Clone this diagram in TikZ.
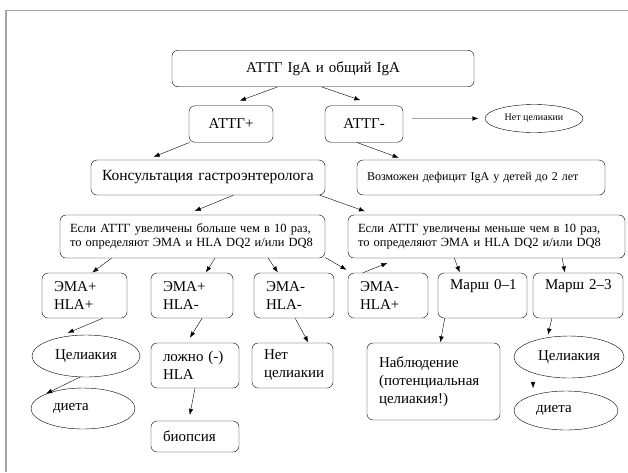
\documentclass[tikz,border=0pt]{standalone}
\usepackage{fontspec}
\setmainfont{Liberation Serif}
\usetikzlibrary{arrows.meta,shapes}
\tikzstyle{block}=[draw,rounded corners=6pt,inner xsep=12pt,inner ysep=0pt,align=left,font=\fontsize{15}{18}\selectfont]
\tikzstyle{centerblock}=[block,align=center]
\tikzstyle{smallblock}=[block,inner xsep=10pt,font=\fontsize{12.5}{14}\selectfont]
\tikzstyle{oval}=[draw,ellipse,inner sep=0pt,font=\fontsize{15}{18}\selectfont]
\tikzstyle{edge}=[draw,-{Latex[length=6pt,width=4.5pt]}]
\tikzstyle{frame}=[draw=black!35,line width=1.5pt]

\begin{document}
\begin{tikzpicture}[x=1pt,y=-1pt]
\useasboundingbox (0,0) rectangle (628,472);
% frame of the figure
\draw[frame] (6,472) -- (6,10.5) -- (628,10.5);

    % first test and its results
    \foreach \pos/\name/\tw/\label in {{(323,68.5)/tests/278/АТТГ IgA и общий IgA}, {(231,124)/atp/60/АТТГ+}, {(364,124)/atm/54/АТТГ-}}
        \node[centerblock,text width=\tw pt,minimum height=36.5pt] (\name) at \pos {\label};
    \node[oval,font=\fontsize{10}{12}\selectfont,minimum width=98pt,minimum height=28pt] (nocel) at (534,118.5) {Нет целиакии};

    \node[block,inner xsep=11pt,font=\fontsize{15.5}{18}\selectfont,text width=212pt,minimum height=35pt] (cons) at (208,177.5) {\mbox{Консультация гастроэнтеролога}};
    \node[smallblock,font=\fontsize{12}{14}\selectfont,text width=228pt,minimum height=35pt] (igadef) at (481,177.5) {Возможен дефицит IgA у детей до 2 лет};
    \node[smallblock,text width=245pt,minimum height=43pt] (more) at (192.5,236.5) {Если АТТГ увеличены больше чем в 10 раз,\\то определяют ЭМА и HLA DQ2 и/или DQ8};
    \node[smallblock,text width=257pt,minimum height=43pt] (less) at (486.5,236.5) {Если АТТГ увеличены меньше чем в 10 раз,\\то определяют ЭМА и HLA DQ2 и/или DQ8};

    % EMA / HLA row
    \foreach \pos/\name/\tw/\label in {{(84.5,295.5)/epp/61/ЭМА+\\HLA+}, {(192,295.5)/epm/58/ЭМА+\\HLA-}, {(294,295.5)/emm/56/ЭМА-\\HLA-}, {(388,295.5)/emp/56/ЭМА-\\HLA+}}
        \node[block,text width=\tw pt,minimum height=45pt] (\name) at \pos {\label};
    \foreach \pos/\name/\tw/\label in {{(482.5,295.5)/m01/65/Марш 0–1}, {(578,295.5)/m23/66/Марш 2–3}}
        \node[block,text width=\tw pt,minimum height=45pt,text depth=21pt] (\name) at \pos {\mbox{\label}};

    % outcomes
    \foreach \pos/\name/\tw/\h/\label in {{(195,365.5)/false/64/45/ложно (-)\\HLA}, {(292.5,365.5)/nocelb/57/45/Нет\\целиакии}, {(195,436.5)/biop/64/31/биопсия}, {(433.5,381.5)/obs/109/77/Наблюдение\\(потенциальная\\целиакия!)}}
        \node[block,text width=\tw pt,minimum height=\h pt] (\name) at \pos {\label};
    \foreach \pos/\name/\ow/\oh in {{(86,356)/cela/108/42}, {(569,357)/celb/110/42}}
        \node[oval,minimum width=\ow pt,minimum height=\oh pt] (\name) at \pos {Целиакия};
    \foreach \pos/\name/\oh in {{(83,408.5)/dieta/41}, {(566,410.5)/dietb/39}}
        \node[oval,text width=60pt,align=left,minimum width=104pt,minimum height=\oh pt] (\name) at \pos {диета};

    % Connect the boxes
  \foreach \source/\dest/\sa/\sb in {tests.202/atp.103/0/14, tests.266/atm.57/0/16.5, atm.8/nocel.west/8.5/6.5, atp.204/cons.164/0/8, atm.249/igadef.167/0/6,
      cons.325/more.108/0/10, cons.351/less.169/0/10.5, more.195/epp.72/0/0.5, more.316/epm.59/0/0.5, more.344/emm.125/0/0.5, more.351/emp.148/0/6,
      emp.138/less.194/0/13, less.214/m01.135/0/0.5, less.344/m23.120/0/0.5, epp.309/cela.153/0/16, cela.254/dieta.162/0/4,
      epm.294/false.110/0/6, false.270/biop.112/0/6, emm.273/nocelb.55/0/0.5, m01.211/obs.80/0/0.5, m23.221/celb.138/0/3, celb.204/dietb.155/7/7}
          \path[edge,shorten <=\sa pt,shorten >=\sb pt] (\source) -- (\dest);

\end{tikzpicture}
\end{document}
